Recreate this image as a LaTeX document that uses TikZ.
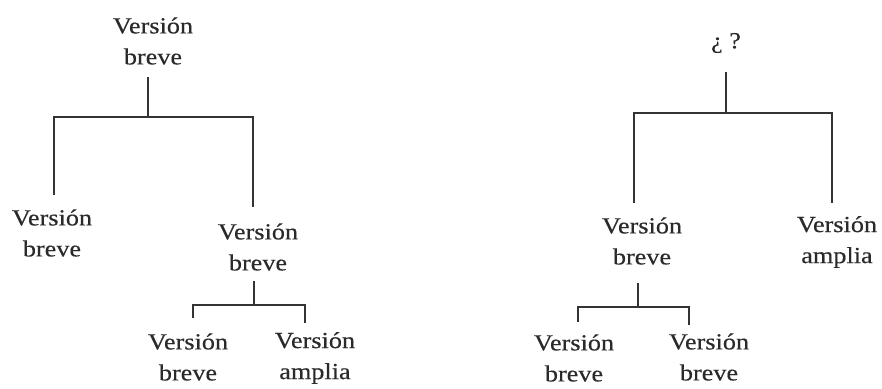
\documentclass[tikz,border=0pt]{standalone}
\usepackage{fontspec}
\setmainfont{Liberation Serif}[FakeStretch=1.14,FakeBold=0.4]
\definecolor{ink}{HTML}{333333}
\definecolor{txt}{HTML}{2A2A2A}
\begin{document}
\begin{tikzpicture}[x=1pt,y=-1pt,
  lbl/.style={align=center,inner sep=0pt,text=txt,font=\fontsize{23}{31}\selectfont},
  tl/.style={draw=ink,line width=1.6pt}]
\useasboundingbox (0,0) rectangle (882,388);
% left tree
\node[lbl] (r1) at (153,41) {Versión\\breve};
\node[lbl] (a1) at (52,233) {Versión\\breve};
\node[lbl] (a2) at (258,247) {Versión\\breve};
\node[lbl] (a3) at (188,357) {Versión\\breve};
\node[lbl] (a4) at (315,358) {Versión\\amplia};
\coordinate (r1t) at (148,77);
\coordinate (r1j) at (148,117);
\coordinate (a1l) at (54,117);
\coordinate (a1e) at (54,195);
\coordinate (a2r) at (253,117);
\coordinate (a2e) at (253,207);
\coordinate (a2t) at (254,281);
\coordinate (a2j) at (254,305);
\coordinate (a3l) at (193,305);
\coordinate (a3e) at (193,318);
\coordinate (a4r) at (305,305);
\coordinate (a4e) at (305,323);
\draw[tl] (r1t) -- (r1j);
\draw[tl] (a1e) -- (a1l) -- (a2r) -- (a2e);
\draw[tl] (a2t) -- (a2j);
\draw[tl] (a3e) -- (a3l) -- (a4r) -- (a4e);
% right tree
\node[lbl] (q) at (726,43) {¿ ?};
\node[lbl] (b1) at (642,241) {Versión\\breve};
\node[lbl] (b2) at (837,242) {Versión\\amplia};
\node[lbl] (b3) at (574,358) {Versión\\breve};
\node[lbl] (b4) at (709,357) {Versión\\breve};
\coordinate (qt) at (726,72);
\coordinate (qj) at (726,113);
\coordinate (b1l) at (634,113);
\coordinate (b1e) at (634,203);
\coordinate (b2r) at (832,113);
\coordinate (b2e) at (832,203);
\coordinate (b1t) at (638,283);
\coordinate (b1j) at (638,307);
\coordinate (b3l) at (578,307);
\coordinate (b3e) at (578,322);
\coordinate (b4r) at (689,307);
\coordinate (b4e) at (689,325);
\draw[tl] (qt) -- (qj);
\draw[tl] (b1e) -- (b1l) -- (b2r) -- (b2e);
\draw[tl] (b1t) -- (b1j);
\draw[tl] (b3e) -- (b3l) -- (b4r) -- (b4e);
\end{tikzpicture}
\end{document}
